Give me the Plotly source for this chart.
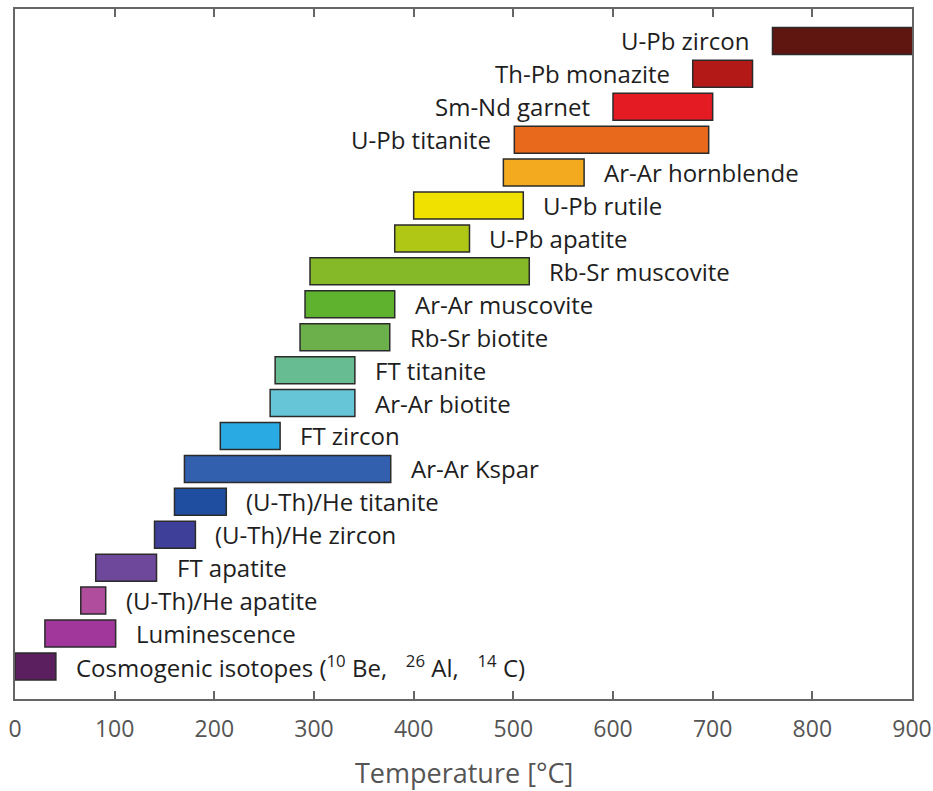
import plotly.graph_objects as go

methods = ["Cosmogenic isotopes (<sup>10</sup> Be,   <sup>26</sup> Al,   <sup>14</sup> C)",
           "Luminescence", "(U-Th)/He apatite", "FT apatite", "(U-Th)/He zircon",
           "(U-Th)/He titanite", "Ar-Ar Kspar", "FT zircon", "Ar-Ar biotite",
           "FT titanite", "Rb-Sr biotite", "Ar-Ar muscovite", "Rb-Sr muscovite",
           "U-Pb apatite", "U-Pb rutile", "Ar-Ar hornblende", "U-Pb titanite",
           "Sm-Nd garnet", "Th-Pb monazite", "U-Pb zircon"]
t_low = [0, 30, 66, 81, 140, 160, 170, 206, 256, 261, 286, 291, 296,
         381, 400, 490, 501, 600, 680, 760]
t_high = [41, 101, 91, 142, 181, 212, 377, 266, 341, 341, 376, 381, 516,
          456, 510, 571, 696, 700, 740, 905]
label_side = ["right"] * 16 + ["left"] * 4
colors = ["#5b1f5f", "#a1369b", "#b04d9d", "#6e489b", "#3e3f98", "#1f4ea0",
          "#3260ae", "#2aaae2", "#66c5d7", "#67bd91", "#6bb04b", "#5fb22d",
          "#86b928", "#b0c815", "#f0e101", "#f4aa1e", "#e8681c", "#e41b23",
          "#b21917", "#5f1610"]
x_ticks = [0, 100, 200, 300, 400, 500, 600, 700, 800, 900]
x_title = "Temperature [°C]"

FONT = "Open Sans"
idx = list(range(len(methods)))
fig = go.Figure()
fig.add_trace(go.Bar(
    y=idx, x=[h - l for l, h in zip(t_low, t_high)], base=t_low,
    orientation="h", width=0.82,
    marker=dict(color=colors, line=dict(color="#2b2b2b", width=1.5)),
    hoverinfo="skip", showlegend=False, cliponaxis=True,
))

for i, (name, lo, hi, side) in enumerate(zip(methods, t_low, t_high, label_side)):
    right = side == "right"
    fig.add_annotation(x=hi if right else lo, y=i, text=name,
                       xanchor="left" if right else "right",
                       xshift=18 if right else -21,
                       showarrow=False, yanchor="middle",
                       font=dict(family=FONT, size=24, color="#1e1e1e"))

fig.add_annotation(x=0.5, y=-0.107, xref="paper", yref="paper", text=x_title,
                   showarrow=False, xanchor="center", yanchor="middle",
                   font=dict(family=FONT, size=27, color="#555555"))

fig.update_layout(
    width=933, height=791,
    margin=dict(l=15, r=21, t=9, b=92, autoexpand=False),
    plot_bgcolor="white", paper_bgcolor="white",
    font=dict(family=FONT, color="#555555"),
    xaxis=dict(range=[0, 900], tickvals=x_ticks, ticks="inside", ticklen=8,
               tickwidth=2, tickcolor="#666666", showline=True, linecolor="#666666",
               linewidth=2, mirror="ticks", showgrid=False, zeroline=False,
               automargin=False, ticklabelstandoff=8,
               tickfont=dict(family=FONT, size=23, color="#555555")),
    yaxis=dict(range=[-0.99, 19.97], showticklabels=False, ticks="",
               showline=True, linecolor="#666666", linewidth=2, mirror=True,
               showgrid=False, zeroline=False, automargin=False),
)
fig.write_html("out.html")
